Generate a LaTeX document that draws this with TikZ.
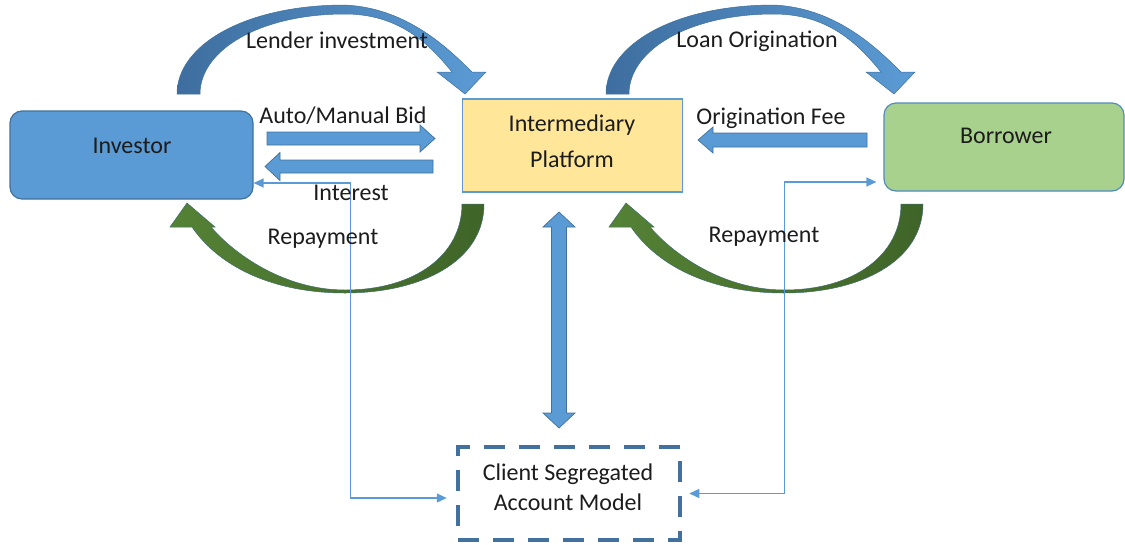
\documentclass[tikz,border=0pt]{standalone}
\usepackage{fontspec}
\setmainfont{Carlito}
\usetikzlibrary{arrows.meta,calc}

\definecolor{accblue}{HTML}{5B9BD5}
\definecolor{edgeblue}{HTML}{41719C}
\definecolor{backblue}{HTML}{3E6E9F}
\definecolor{platfill}{HTML}{FFE699}
\definecolor{borrfill}{HTML}{A9D18E}
\definecolor{frontgreen}{HTML}{548235}
\definecolor{backgreen}{HTML}{3F6428}
\definecolor{inktext}{HTML}{1C1C1C}

% flat block arrow from #1 (tail) to #2 (tip); #3 shaft half width, #4 head half width
\newcommand{\blockarrow}[4]{%
  \coordinate (hb) at ($(#2)!15pt!(#1)$);
  \filldraw[flatarrow]
    ($(#1)!#3!90:(#2)$) -- ($(hb)!#3!90:(#2)$) -- ($(hb)!#4!90:(#2)$) -- (#2)
    -- ($(hb)!#4!-90:(#2)$) -- ($(hb)!#3!-90:(#2)$) -- ($(#1)!#3!-90:(#2)$) -- cycle;
}
% two-headed block arrow between #1 and #2
\newcommand{\twowayarrow}[4]{%
  \coordinate (hba) at ($(#1)!15pt!(#2)$);
  \coordinate (hbb) at ($(#2)!15pt!(#1)$);
  \filldraw[flatarrow]
    (#1) -- ($(hba)!#4!90:(#2)$) -- ($(hba)!#3!90:(#2)$) -- ($(hbb)!#3!90:(#2)$)
    -- ($(hbb)!#4!90:(#2)$) -- (#2) -- ($(hbb)!#4!-90:(#2)$) -- ($(hbb)!#3!-90:(#2)$)
    -- ($(hba)!#3!-90:(#2)$) -- ($(hba)!#4!-90:(#2)$) -- cycle;
}
% arched arrow over the top, pointing down at its right end
\newcommand{\overarch}{%
  \path[topcurve] (177,94) .. controls (177,45) and (245,5) .. (345,5)
    .. controls (405,8) and (445,45) .. (472,72) -- (486,72) -- (465,94) -- (437,72) -- (452,72)
    .. controls (430,45) and (400,14) .. (345,14) .. controls (260,14) and (200,50) .. (200,94) -- cycle;
}
% arched arrow underneath, pointing up at its left end
\newcommand{\underarch}{%
  \path[greencurve] (484,204) .. controls (484,262) and (420,293) .. (345,293)
    .. controls (275,293) and (220,268) .. (192,227) -- (170,227) -- (187,203) -- (215,227) -- (211,227)
    .. controls (235,255) and (285,290) .. (345,290) .. controls (415,290) and (462,255) .. (462,204) -- cycle;
}

\begin{document}
\begin{tikzpicture}[x=1pt,y=-1pt,
  txt/.style={text=inktext,font=\fontsize{24}{28}\selectfont,inner sep=0pt},
  party/.style={draw=edgeblue,line width=1.2pt,fill=accblue,rounded corners=12pt,
    minimum width=243pt,minimum height=88pt,inner sep=0pt},
  flatarrow/.style={fill=accblue,draw=edgeblue,line width=0.7pt,line join=miter},
  topcurve/.style={left color=backblue,middle color=accblue,right color=accblue,
    draw=edgeblue,line width=0.5pt},
  greencurve/.style={left color=frontgreen,middle color=frontgreen,right color=backgreen,
    draw=edgeblue!60!backgreen,line width=0.5pt},
  link/.style={draw=accblue,line width=1.3pt,
    {Triangle[length=10pt,width=9pt]}-{Triangle[length=10pt,width=9pt]}}
]
\useasboundingbox (0,0) rectangle (1125,544);

% ---- boxes ----
\node[party] (inv) at (131.5,155) {};
\node[party,fill=borrfill,draw=accblue!90!black,minimum width=240pt] (bor) at (1004,147) {};
\node[draw=accblue,line width=1.2pt,fill=platfill,minimum width=220pt,minimum height=93pt,
  inner sep=0pt] (plat) at (572.5,145.5) {};
\node[draw=edgeblue,line width=4.5pt,dash pattern=on 21pt off 14pt,minimum width=222pt,
  minimum height=93pt,inner sep=0pt] (csa) at (569,493.5) {};

\node[txt,anchor=base] (inv-t) at (132,153) {Investor};
\node[txt,anchor=base] (bor-t) at (1006,143) {Borrower};
\node[txt,anchor=base] (plat-t1) at (572,131) {Intermediary};
\node[txt,anchor=base] (plat-t2) at (572,167) {Platform};
\node[txt,anchor=base] (csa-t1) at (568,480) {Client Segregated};
\node[txt,anchor=base] (csa-t2) at (568,510) {Account Model};

% ---- curved flow arrows ----
\overarch
\begin{scope}[xshift=429pt]\overarch\end{scope}
\underarch
\begin{scope}[xshift=439pt]\underarch\end{scope}

% ---- straight block arrows ----
\coordinate (bid-a) at (267,138.5);
\coordinate (bid-b) at (435,138.5);
\coordinate (int-a) at (433,166.5);
\coordinate (int-b) at (265,166.5);
\coordinate (fee-a) at (867,140);
\coordinate (fee-b) at (698,140);
\coordinate (acc-a) at (559,212);
\coordinate (acc-b) at (559,428);
\blockarrow{bid-a}{bid-b}{6.5pt}{13.5pt}
\blockarrow{int-a}{int-b}{6.5pt}{14pt}
\blockarrow{fee-a}{fee-b}{7pt}{13pt}
\twowayarrow{acc-a}{acc-b}{7.5pt}{16pt}

% ---- segregated account links ----
\draw[link,shorten >=9pt] ([yshift=-28pt]inv.east) -- ++(97,0) |- ([yshift=-4.5pt]csa.west);
\draw[link,shorten <=7pt,shorten >=7pt] ([yshift=-35pt]bor.west) -- ++(-99,0) |- (csa.east);

% ---- flow labels ----
\node[txt,anchor=base] (l-lend) at (337,48) {Lender investment};
\node[txt,anchor=base] (l-loan) at (757,47) {Loan Origination};
\node[txt,anchor=base] (l-bid) at (343,123) {Auto/Manual Bid};
\node[txt,anchor=base] (l-int) at (351,200) {Interest};
\node[txt,anchor=base] (l-fee) at (771,124) {Origination Fee};
\node[txt,anchor=base] (l-rep1) at (323,244) {Repayment};
\node[txt,anchor=base] (l-rep2) at (764,242) {Repayment};
\end{tikzpicture}
\end{document}
